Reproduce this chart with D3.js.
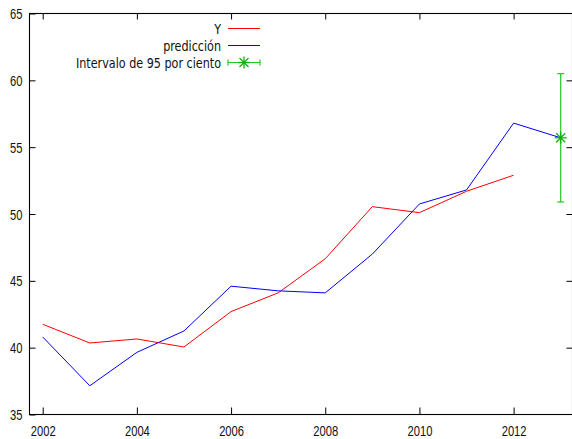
<!DOCTYPE html>
<html>
<head>
<meta charset="utf-8">
<script src="https://cdn.jsdelivr.net/npm/d3@7"></script>
<style>
  body { margin: 0; background: #fff; }
  svg { display: block; font-family: "DejaVu Sans", sans-serif; }
</style>
</head>
<body>
<div id="chart"></div>
<script>
// data
const years = [2002, 2003, 2004, 2005, 2006, 2007, 2008, 2009, 2010, 2011, 2012];
const yValues = [41.75, 40.35, 40.65, 40.05, 42.7, 44.1, 46.65, 50.55, 50.1, 51.7, 52.9];
const predYears = [2002, 2003, 2004, 2005, 2006, 2007, 2008, 2009, 2010, 2011, 2012, 2013];
const predValues = [40.8, 37.15, 39.65, 41.25, 44.6, 44.25, 44.1, 47.0, 50.75, 51.8, 56.8, 55.7];
const intervalYear = [2013];
const intervalMid = [55.7];
const intervalLow = [50.9];
const intervalHigh = [60.5];
const xTicks = [2002, 2004, 2006, 2008, 2010, 2012];
const yTicks = [35, 40, 45, 50, 55, 60, 65];
const legendLabels = ["Y", "predicción", "Intervalo de 95 por ciento"];

const width = 572;
const height = 439;
const box = { left: 29.5, right: 572.5, top: 13.5, bottom: 414.5 };
const squeeze = "scale(0.8,1)";

const svg = d3.select("#chart")
    .append("svg")
    .attr("width", width)
    .attr("height", height);

const x = d3.scaleLinear().domain([2002, 2013]).range([42.7, 560.7]);
const y = d3.scaleLinear().domain([35, 65]).range([box.bottom, box.top]);

// axes (ticks point inward, like gnuplot)
const xAxisBottom = svg.append("g")
    .attr("transform", `translate(0,${box.bottom})`)
    .call(d3.axisBottom(x).tickValues(xTicks).tickFormat(d3.format("d"))
        .tickSizeInner(-7).tickSizeOuter(0).tickPadding(12));

svg.append("g")
    .attr("transform", `translate(0,${box.top})`)
    .call(d3.axisTop(x).tickValues(xTicks).tickFormat("")
        .tickSizeInner(-6).tickSizeOuter(0));

const yAxisLeft = svg.append("g")
    .attr("transform", `translate(${box.left},0)`)
    .call(d3.axisLeft(y).tickValues(yTicks).tickFormat(d3.format("d"))
        .tickSizeInner(-6).tickSizeOuter(0).tickPadding(7));

svg.append("g")
    .attr("transform", `translate(${box.right},0)`)
    .call(d3.axisRight(y).tickValues(yTicks.slice(1, -1)).tickFormat("")
        .tickSizeInner(-6).tickSizeOuter(0));

svg.selectAll(".domain").remove();
svg.selectAll(".tick line").attr("stroke", "#000");

xAxisBottom.selectAll("text")
    .attr("font-size", "14px")
    .attr("fill", "#111")
    .attr("transform", squeeze);

yAxisLeft.selectAll("text")
    .attr("font-size", "14px")
    .attr("fill", "#111")
    .attr("x", null)
    .attr("dy", "0.36em")
    .attr("transform", `translate(-7,0) ${squeeze}`);

// frame
svg.append("rect")
    .attr("x", box.left)
    .attr("y", box.top)
    .attr("width", box.right - box.left)
    .attr("height", box.bottom - box.top)
    .attr("fill", "none")
    .attr("stroke", "#000")
    .attr("stroke-width", 1.1);

const line = d3.line().x(d => x(d[0])).y(d => y(d[1]));

svg.append("path")
    .datum(d3.zip(years, yValues))
    .attr("d", line)
    .attr("fill", "none")
    .attr("stroke", "#ff0000")
    .attr("stroke-width", 1);

svg.append("path")
    .datum(d3.zip(predYears, predValues))
    .attr("d", line)
    .attr("fill", "none")
    .attr("stroke", "#0000ff")
    .attr("stroke-width", 1);

const green = "#22c822";

function star(g, cx, cy, r) {
    const pts = [[-r, 0, r, 0], [0, -r, 0, r], [-r * 0.75, -r * 0.75, r * 0.75, r * 0.75], [-r * 0.75, r * 0.75, r * 0.75, -r * 0.75]];
    pts.forEach(p => {
        g.append("line")
            .attr("x1", cx + p[0]).attr("y1", cy + p[1])
            .attr("x2", cx + p[2]).attr("y2", cy + p[3])
            .attr("stroke", "#10b010")
            .attr("stroke-width", 1.3);
    });
}

// error bar
const interval = intervalYear.map((yr, i) => ({ yr, mid: intervalMid[i], lo: intervalLow[i], hi: intervalHigh[i] }));
const eb = svg.append("g");
interval.forEach(d => {
    const cx = x(d.yr);
    eb.append("line")
        .attr("x1", cx).attr("x2", cx)
        .attr("y1", y(d.lo)).attr("y2", y(d.hi))
        .attr("stroke", green).attr("stroke-width", 1.2);
    [d.lo, d.hi].forEach(v => {
        eb.append("line")
            .attr("x1", cx - 3.5).attr("x2", cx + 3.5)
            .attr("y1", y(v)).attr("y2", y(v))
            .attr("stroke", green).attr("stroke-width", 1.2);
    });
    star(eb, cx, y(d.mid), 6);
});

// legend
const legend = svg.append("g");
const rowY = [28.5, 45.5, 62.5];
const sampleColors = ["#ff0000", "#0000ff", green];
legendLabels.forEach((label, i) => {
    legend.append("text")
        .attr("transform", `translate(221,${rowY[i]}) ${squeeze}`)
        .attr("dy", "0.36em")
        .attr("text-anchor", "end")
        .attr("font-size", "14px")
        .attr("fill", "#111")
        .text(label);
    legend.append("line")
        .attr("x1", 228).attr("x2", 260)
        .attr("y1", rowY[i]).attr("y2", rowY[i])
        .attr("stroke", sampleColors[i])
        .attr("stroke-width", 1);
});
[228, 260].forEach(cx => {
    legend.append("line")
        .attr("x1", cx).attr("x2", cx)
        .attr("y1", rowY[2] - 3).attr("y2", rowY[2] + 3)
        .attr("stroke", green).attr("stroke-width", 1.2);
});
star(legend, 244, rowY[2], 6);
</script>
</body>
</html>
